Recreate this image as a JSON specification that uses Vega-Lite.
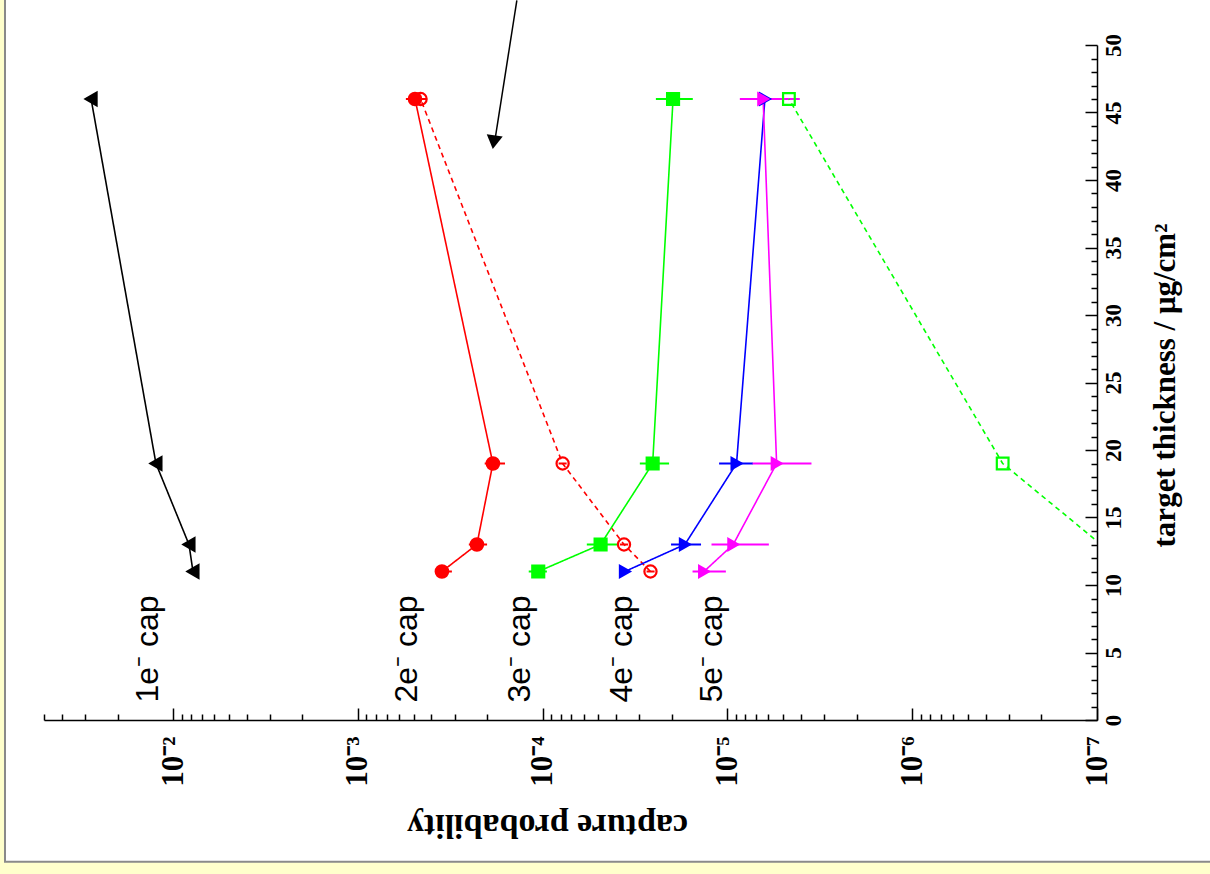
{
  "$schema": "https://vega.github.io/schema/vega-lite/v6.json",
  "width": 1053,
  "height": 675,
  "autosize": {"type": "none"},
  "padding": {"left": 44, "top": 45, "right": 113, "bottom": 154},
  "background": "#FFFFCC",
  "config": {"view": {"stroke": null}},
  "datasets": {
    "panel": [{"p": 0.0813, "p2": 1e-9, "t": 60, "t2": -10.5}],
    "pts": [
      {"series": "1e", "t": 11, "p": 0.00781, "lo": 0.00743, "hi": 0.00821},
      {"series": "1e", "t": 13, "p": 0.00821, "lo": 0.00781, "hi": 0.00863},
      {"series": "1e", "t": 19, "p": 0.01239, "lo": 0.01179, "hi": 0.01302},
      {"series": "1e", "t": 46, "p": 0.0278, "lo": 0.02645, "hi": 0.02922},
      {"series": "2e", "t": 11, "p": 0.000351, "lo": 0.00031, "hi": 0.000383},
      {"series": "2e", "t": 13, "p": 0.000227, "lo": 0.0002, "hi": 0.000251},
      {"series": "2e", "t": 19, "p": 0.000186, "lo": 0.00016, "hi": 0.000206},
      {"series": "2e", "t": 46, "p": 0.000491, "lo": 0.000424, "hi": 0.00055},
      {"series": "2e_open", "t": 11, "p": 0.0000261, "lo": 0.0000248, "hi": 0.0000274},
      {"series": "2e_open", "t": 13, "p": 0.0000363, "lo": 0.0000345, "hi": 0.0000382},
      {"series": "2e_open", "t": 19, "p": 0.000078, "lo": 0.0000742, "hi": 0.000082},
      {"series": "2e_open", "t": 46, "p": 0.000458, "lo": 0.000436, "hi": 0.000481},
      {"series": "3e", "t": 11, "p": 0.0001057, "lo": 0.0000949, "hi": 0.000119},
      {"series": "3e", "t": 13, "p": 0.0000486, "lo": 0.0000396, "hi": 0.0000577},
      {"series": "3e", "t": 19, "p": 0.0000254, "lo": 0.0000207, "hi": 0.0000298},
      {"series": "3e", "t": 46, "p": 0.0000197, "lo": 0.0000154, "hi": 0.0000244},
      {"series": "3e_open", "t": 13, "p": 9.5e-8, "lo": 9.5e-8, "hi": 9.5e-8},
      {"series": "3e_open", "t": 19, "p": 3.24e-7, "lo": 3.24e-7, "hi": 3.24e-7},
      {"series": "3e_open", "t": 46, "p": 0.00000465, "lo": 0.00000465, "hi": 0.00000465},
      {"series": "4e", "t": 11, "p": 0.0000359, "lo": 0.0000359, "hi": 0.0000359},
      {"series": "4e", "t": 13, "p": 0.000017, "lo": 0.0000139, "hi": 0.0000202},
      {"series": "4e", "t": 19, "p": 0.00000893, "lo": 0.00000728, "hi": 0.0000111},
      {"series": "4e", "t": 46, "p": 0.00000627, "lo": 0.00000553, "hi": 0.00000711},
      {"series": "5e", "t": 11, "p": 0.0000134, "lo": 0.0000102, "hi": 0.00001545},
      {"series": "5e", "t": 13, "p": 0.00000931, "lo": 0.00000597, "hi": 0.0000122},
      {"series": "5e", "t": 19, "p": 0.00000542, "lo": 0.00000351, "hi": 0.00000731},
      {"series": "5e", "t": 46, "p": 0.00000641, "lo": 0.00000406, "hi": 0.00000857}
    ],
    "labels": [
      {"label": "1e⁻ cap", "p": 0.01368, "t": 1.3},
      {"label": "2e⁻ cap", "p": 0.000543, "t": 1.3},
      {"label": "3e⁻ cap", "p": 0.000133, "t": 1.3},
      {"label": "4e⁻ cap", "p": 0.0000372, "t": 1.3},
      {"label": "5e⁻ cap", "p": 0.0000121, "t": 1.3}
    ],
    "arrow": [{"p": 0.000138, "t": 53.3, "p2": 0.000183, "t2": 42.6}],
    "head": [{"p": 0.000184, "t": 42.8}]
  },
  "layer": [
    {
      "data": {"name": "panel"},
      "mark": {"type": "rect", "fill": "white", "stroke": "#8a8a8a", "strokeWidth": 2},
      "encoding": {
        "x": {
          "field": "p", "type": "quantitative",
          "scale": {"type": "log", "domain": [1e-7, 0.05], "reverse": true, "nice": false},
          "axis": {
            "zindex": 2,
            "title": "capture probability",
            "titleFont": "Liberation Serif", "titleFontWeight": "bold", "titleFontSize": 34, "titleColor": "black",
            "titleAngle": 180, "titleAlign": "center", "titleBaseline": "middle", "titleX": 503, "titleY": 104,
            "tickCount": 200,
            "values": [1e-7, 2e-7, 3e-7, 4e-7, 5e-7, 6e-7, 7e-7, 8e-7, 9e-7,
                       1e-6, 2e-6, 3e-6, 4e-6, 5e-6, 6e-6, 7e-6, 8e-6, 9e-6,
                       1e-5, 2e-5, 3e-5, 4e-5, 5e-5, 6e-5, 7e-5, 8e-5, 9e-5,
                       1e-4, 2e-4, 3e-4, 4e-4, 5e-4, 6e-4, 7e-4, 8e-4, 9e-4,
                       1e-3, 2e-3, 3e-3, 4e-3, 5e-3, 6e-3, 7e-3, 8e-3, 9e-3,
                       0.01, 0.02, 0.03, 0.04, 0.05],
            "labelExpr": "abs(log(datum.value)/LN10 - round(log(datum.value)/LN10)) < 0.001 ? '10⁻' + ['⁰','¹','²','³','⁴','⁵','⁶','⁷','⁸','⁹'][-round(log(datum.value)/LN10)] : ''",
            "labelFont": "Liberation Serif", "labelFontWeight": "bold", "labelFontSize": 31, "labelColor": "black",
            "labelAngle": 270, "labelAlign": "right", "labelBaseline": "middle", "labelPadding": 28,
            "labelOverlap": false, "labelFlush": false,
            "tickSize": {"condition": {"test": "abs(log(datum.value)/LN10 - round(log(datum.value)/LN10)) < 0.001", "value": -12}, "value": -6},
            "tickColor": "black", "tickWidth": 1.5,
            "domainColor": "black", "domainWidth": 1.5, "grid": false
          }
        },
        "x2": {"field": "p2"},
        "y": {
          "field": "t", "type": "quantitative",
          "scale": {"domain": [0, 50], "nice": false, "zero": false},
          "axis": {
            "zindex": 2,
            "orient": "right",
            "title": "target thickness / μg/cm²",
            "titleFont": "Liberation Serif", "titleFontWeight": "bold", "titleFontSize": 31, "titleColor": "black",
            "titleAngle": 270, "titleAlign": "center", "titleBaseline": "middle", "titleX": 68, "titleY": 340,
            "tickCount": 200,
            "values": [0,1,2,3,4,5,6,7,8,9,10,11,12,13,14,15,16,17,18,19,20,21,22,23,24,25,26,27,28,29,30,31,32,33,34,35,36,37,38,39,40,41,42,43,44,45,46,47,48,49,50],
            "labelExpr": "datum.value % 5 === 0 ? format(datum.value, 'd') : ''",
            "labelFont": "Liberation Serif", "labelFontWeight": "bold", "labelFontSize": 23, "labelColor": "black",
            "labelAngle": 270, "labelAlign": "center", "labelBaseline": "top", "labelPadding": 17,
            "labelOverlap": false, "labelFlush": false,
            "tickSize": {"condition": {"test": "datum.value % 5 === 0", "value": -12}, "value": -6},
            "tickColor": "black", "tickWidth": 1.5,
            "domainColor": "black", "domainWidth": 1.5, "grid": false
          }
        },
        "y2": {"field": "t2"}
      }
    },
    {
      "data": {"name": "pts"},
      "transform": [{"filter": "datum.hi > datum.lo"}],
      "mark": {"type": "rule", "strokeWidth": 2},
      "encoding": {
        "x": {"field": "lo", "type": "quantitative"},
        "x2": {"field": "hi"},
        "y": {"field": "t", "type": "quantitative"},
        "color": {"field": "series", "type": "nominal", "legend": null,
          "scale": {"domain": ["1e", "2e", "2e_open", "3e", "3e_open", "4e", "5e"],
                    "range": ["black", "#FF0000", "#FF0000", "#00FF00", "#00FF00", "#0000FF", "#FF00FF"]}}
      }
    },
    {
      "data": {"name": "pts"},
      "mark": {"type": "line", "strokeWidth": 1.6, "clip": true},
      "encoding": {
        "x": {"field": "p", "type": "quantitative"},
        "y": {"field": "t", "type": "quantitative"},
        "order": {"field": "t"},
        "color": {"field": "series", "type": "nominal", "legend": null},
        "strokeDash": {"field": "series", "type": "nominal", "legend": null,
          "scale": {"domain": ["1e", "2e", "2e_open", "3e", "3e_open", "4e", "5e"],
                    "range": [[1, 0], [1, 0], [5, 4], [1, 0], [5, 4], [1, 0], [1, 0]]}}
      }
    },
    {
      "data": {"name": "pts"},
      "transform": [{"filter": "datum.p >= 1e-7"}],
      "mark": {"type": "point", "strokeWidth": 2.2, "opacity": 1},
      "encoding": {
        "x": {"field": "p", "type": "quantitative"},
        "y": {"field": "t", "type": "quantitative"},
        "color": {"field": "series", "type": "nominal", "legend": null},
        "fill": {"field": "series", "type": "nominal", "legend": null,
          "scale": {"domain": ["1e", "2e", "2e_open", "3e", "3e_open", "4e", "5e"],
                    "range": ["black", "#FF0000", "transparent", "#00FF00", "transparent", "#0000FF", "#FF00FF"]}},
        "shape": {"field": "series", "type": "nominal", "legend": null,
          "scale": {"domain": ["1e", "2e", "2e_open", "3e", "3e_open", "4e", "5e"],
                    "range": ["triangle-left", "circle", "circle", "square", "square", "triangle-right", "triangle-right"]}},
        "size": {"field": "series", "type": "nominal", "legend": null,
          "scale": {"domain": ["1e", "2e", "2e_open", "3e", "3e_open", "4e", "5e"],
                    "range": [160, 125, 185, 200, 190, 175, 175]}}
      }
    },
    {
      "data": {"name": "labels"},
      "mark": {"type": "text", "angle": 270, "align": "left", "baseline": "middle", "font": "Liberation Sans", "fontSize": 32, "color": "black"},
      "encoding": {
        "x": {"field": "p", "type": "quantitative"},
        "y": {"field": "t", "type": "quantitative"},
        "text": {"field": "label"}
      }
    },
    {
      "data": {"name": "arrow"},
      "mark": {"type": "rule", "color": "black", "strokeWidth": 1.5},
      "encoding": {
        "x": {"field": "p", "type": "quantitative"},
        "x2": {"field": "p2"},
        "y": {"field": "t", "type": "quantitative"},
        "y2": {"field": "t2"}
      }
    },
    {
      "data": {"name": "head"},
      "mark": {"type": "point", "shape": "triangle-down", "filled": true, "color": "black", "size": 260, "angle": 8, "opacity": 1},
      "encoding": {
        "x": {"field": "p", "type": "quantitative"},
        "y": {"field": "t", "type": "quantitative"}
      }
    }
  ]
}
